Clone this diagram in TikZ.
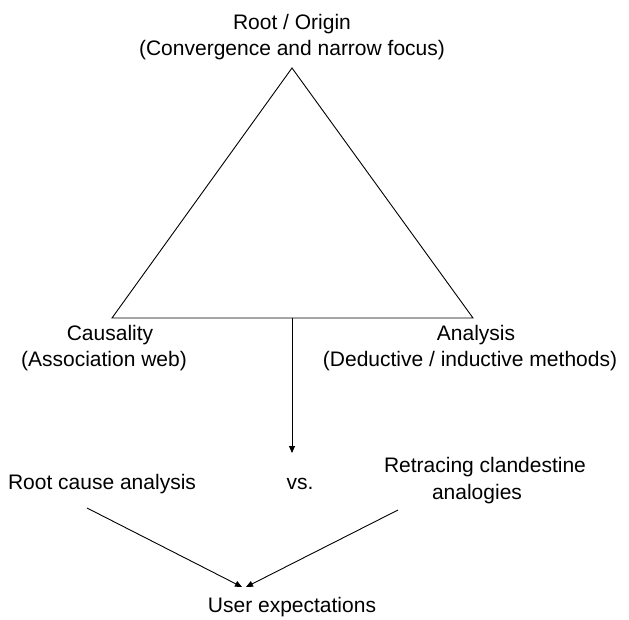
\documentclass[tikz,border=0pt]{standalone}
\usepackage{fontspec}
\setmainfont{Liberation Sans}
\usetikzlibrary{arrows.meta}
\begin{document}
\begin{tikzpicture}[x=1pt,y=-1pt,
  lbl/.style={font=\fontsize{21}{26}\selectfont, anchor=base, inner sep=0pt},
  ln/.style={line width=0.9pt},
  arr/.style={ln, -{Triangle[length=7pt,width=6pt]}}]
\useasboundingbox (0,0) rectangle (629,620);
\coordinate (apex) at (292,68);
\coordinate (bl) at (112,318);
\coordinate (br) at (473,318);
\coordinate (mid) at (292,318);
\draw[ln, line join=miter] (apex) -- (bl) -- (br) -- cycle;
\node[lbl] (root) at (292,30) {Root / Origin};
\node[lbl] (root2) at (292,56) {(Convergence and narrow focus)};
\node[lbl] (caus) at (110,340) {Causality};
\node[lbl] (caus2) at (104,366) {(Association web)};
\node[lbl] (anal) at (476,340) {Analysis};
\node[lbl] (anal2) at (470,366) {(Deductive / inductive methods)};
\coordinate (vtip) at (292,453);
\draw[arr] (mid) -- (vtip);
\node[lbl] (rca) at (102,489) {Root cause analysis};
\node[lbl] (vs) at (300,489) {vs.};
\node[lbl] (ret) at (485,472) {Retracing clandestine};
\node[lbl] (ret2) at (477,499) {analogies};
\node[lbl] (user) at (292,612) {User expectations};
\coordinate (la) at (87,508);
\coordinate (lt) at (242,587);
\coordinate (ra) at (398,510);
\coordinate (rt) at (246,587);
\draw[arr] (la) -- (lt);
\draw[arr] (ra) -- (rt);
\end{tikzpicture}
\end{document}
